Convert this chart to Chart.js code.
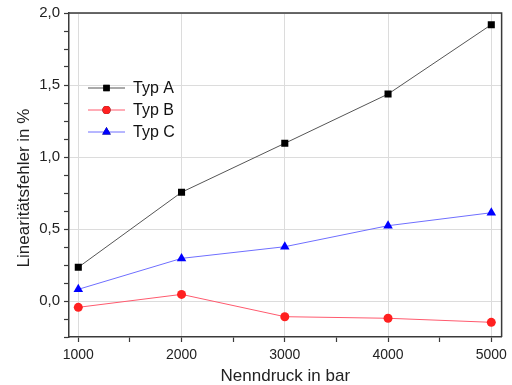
<!DOCTYPE html>
<html>
<head>
<meta charset="utf-8">
<script src="https://cdn.jsdelivr.net/npm/chart.js@4/dist/chart.umd.min.js"></script>
<style>
  html, body { margin: 0; padding: 0; background: #fff; }
  #wrap { width: 512px; height: 385px; }
</style>
</head>
<body>
<div id="wrap"><canvas id="chartgraph"></canvas></div>
<script>
// data
var pressures = [1000, 2000, 3000, 4000, 5000];
var typA = [0.234, 0.755, 1.095, 1.437, 1.919];
var typB = [-0.044, 0.046, -0.109, -0.120, -0.148];
var typC = [0.081, 0.296, 0.377, 0.523, 0.613];
var seriesNames = ['Typ A', 'Typ B', 'Typ C'];
var yTitle = 'Linearitätsfehler in %';

var FONT = '"Liberation Sans", Arial, sans-serif';
var AXIS = '#3a3a3a';

function pts(vals) {
  return pressures.map(function (p, i) { return {x: p, y: vals[i]}; });
}

function deComma(v, digits) {
  return v.toFixed(digits).replace('.', ',');
}

function isMult(v, step) {
  var r = v / step;
  return Math.abs(r - Math.round(r)) < 1e-6;
}

// frame on top/right, y title (sits a bit below centre) and legend with line + marker
var framePlugin = {
  id: 'frame',
  afterDraw: function (chart) {
    var c = chart.ctx, a = chart.chartArea;
    c.save();
    c.strokeStyle = AXIS;
    c.lineWidth = 1.5;
    c.beginPath();
    c.moveTo(a.left, a.top);
    c.lineTo(a.right, a.top);
    c.lineTo(a.right, a.bottom);
    c.stroke();

    c.save();
    c.translate(24, 188);
    c.rotate(-Math.PI / 2);
    c.fillStyle = '#222';
    c.font = '17px ' + FONT;
    c.textAlign = 'center';
    c.textBaseline = 'middle';
    c.fillText(yTitle, 0, 0);
    c.restore();

    // legend
    var x0 = 88, x1 = 125, y0 = 88, dy = 22;
    chart.data.datasets.forEach(function (ds, i) {
      var y = y0 + i * dy;
      c.strokeStyle = ds.borderColor;
      c.lineWidth = 1;
      c.beginPath();
      c.moveTo(x0, y);
      c.lineTo(x1, y);
      c.stroke();
      Chart.helpers.drawPoint(c, {
        pointStyle: ds.pointStyle,
        radius: ds.pointRadius * 0.9,
        rotation: 0,
        borderWidth: 0
      }, (x0 + x1) / 2, y);
      c.fillStyle = ds.pointBackgroundColor;
      c.fill();
      c.fillStyle = '#111';
      c.font = '16px ' + FONT;
      c.textAlign = 'left';
      c.textBaseline = 'middle';
      c.fillText(ds.label, 133, y + 1);
    });
    c.restore();
  }
};

var ctx = document.getElementById('chartgraph').getContext('2d');

var chart = new Chart(ctx, {
  type: 'line',
  data: {
    datasets: [{
      label: seriesNames[0],
      data: pts(typA),
      borderColor: '#555555',
      borderWidth: 1,
      pointStyle: 'rect',
      pointRadius: 5,
      pointBackgroundColor: '#000000',
      pointBorderWidth: 0
    }, {
      label: seriesNames[1],
      data: pts(typB),
      borderColor: '#ff5a6e',
      borderWidth: 1,
      pointStyle: 'circle',
      pointRadius: 4.5,
      pointBackgroundColor: '#ff2020',
      pointBorderWidth: 0
    }, {
      label: seriesNames[2],
      data: pts(typC),
      borderColor: '#6f6fff',
      borderWidth: 1,
      pointStyle: 'triangle',
      pointRadius: 5.5,
      pointBackgroundColor: '#0000ff',
      pointBorderWidth: 0
    }]
  },
  options: {
    responsive: true,
    maintainAspectRatio: false,
    animation: false,
    layout: { padding: { top: 13, right: 5, left: 0, bottom: 0 } },
    plugins: { legend: { display: false }, tooltip: { enabled: false } },
    scales: {
      x: {
        type: 'linear',
        min: 910,
        max: 5100,
        afterFit: function (s) { s.height = 48; },
        afterBuildTicks: function (s) {
          s.ticks = [];
          for (var v = 1000; v <= 5000; v += 500) s.ticks.push({value: v});
        },
        border: { color: AXIS, width: 1.5 },
        grid: {
          tickLength: 5,
          color: function (c) { return isMult(c.tick.value, 1000) ? '#dcdcdc' : 'rgba(0,0,0,0)'; },
          tickColor: AXIS,
          tickWidth: 1.2
        },
        ticks: {
          autoSkip: false,
          maxRotation: 0,
          padding: 5,
          color: '#222',
          font: { family: FONT, size: 14 },
          callback: function (v) { return isMult(v, 1000) ? String(v) : ''; }
        },
        title: {
          display: true,
          text: 'Nenndruck in bar',
          color: '#222',
          font: { family: FONT, size: 17, lineHeight: 1 },
          padding: { top: 0, bottom: 0 }
        }
      },
      y: {
        type: 'linear',
        min: -0.25,
        max: 2.0,
        afterFit: function (s) { s.width = 69; },
        afterBuildTicks: function (s) {
          s.ticks = [];
          for (var i = -2; i <= 16; i++) s.ticks.push({value: i * 0.125});
        },
        border: { color: AXIS, width: 1.5 },
        grid: {
          tickLength: 5,
          color: function (c) { return isMult(c.tick.value, 0.5) ? '#dcdcdc' : 'rgba(0,0,0,0)'; },
          tickColor: AXIS,
          tickWidth: 1.2
        },
        ticks: {
          autoSkip: false,
          padding: 4,
          color: '#222',
          font: { family: FONT, size: 15 },
          callback: function (v) { return isMult(v, 0.5) ? deComma(v, 1) : ''; }
        }
      }
    }
  },
  plugins: [framePlugin]
});
</script>
</body>
</html>
